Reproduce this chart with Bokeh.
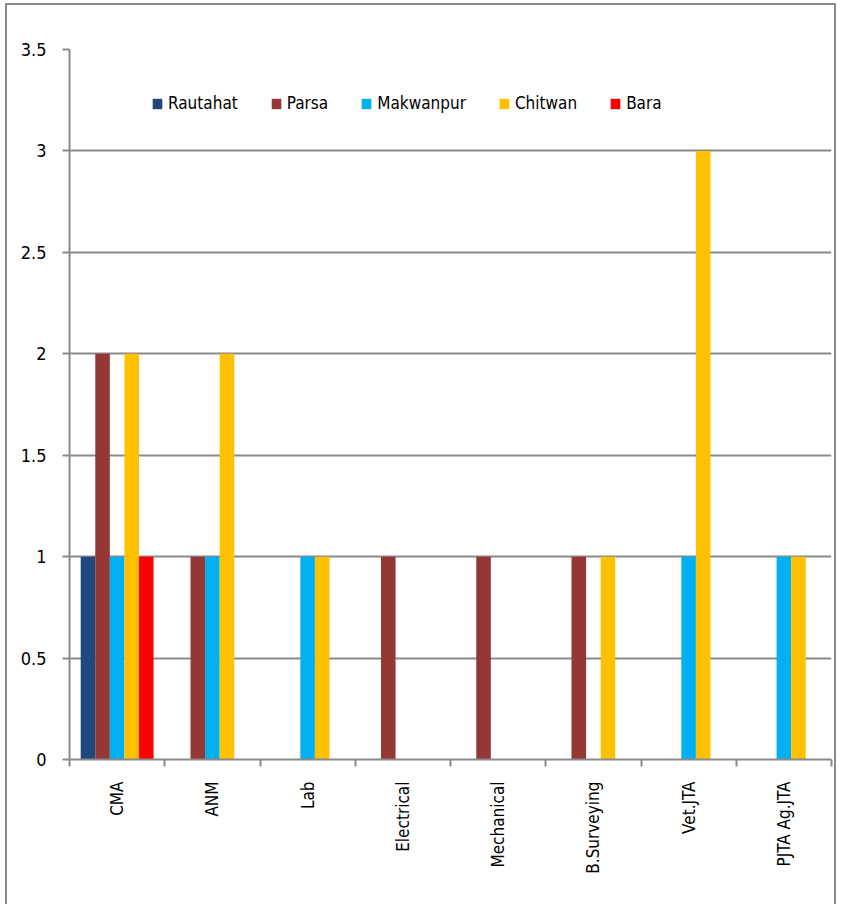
import math
from bokeh.plotting import figure
from bokeh.models import Range1d, FixedTicker, NumeralTickFormatter, Legend, LegendItem
from bokeh.embed import file_html
from bokeh.resources import INLINE

# Trainees by course and district
categories = ["CMA", "ANM", "Lab", "Electrical", "Mechanical",
              "B.Surveying", "Vet.JTA", "PJTA Ag.JTA"]
rautahat = [1, 0, 0, 0, 0, 0, 0, 0]
parsa = [2, 1, 0, 1, 1, 1, 0, 0]
makwanpur = [1, 1, 1, 0, 0, 0, 1, 1]
chitwan = [2, 2, 1, 0, 0, 1, 3, 1]
bara = [1, 0, 0, 0, 0, 0, 0, 0]

series = [
    ("Rautahat", rautahat, "#1F497D"),
    ("Parsa", parsa, "#953735"),
    ("Makwanpur", makwanpur, "#00B0F0"),
    ("Chitwan", chitwan, "#FFC000"),
    ("Bara", bara, "#FF0000"),
]
y_ticks = [0, 0.5, 1, 1.5, 2, 2.5, 3, 3.5]

FONT = "DejaVu Sans Condensed, Roboto"
GREY = "#8a8a8a"
n = len(categories)
centers = [i + 0.5 for i in range(n)]
bar_w = 0.153

p = figure(width=831, height=901, output_backend="svg", toolbar_location=None,
           x_range=Range1d(0, n), y_range=Range1d(0, 3.5),
           min_border_left=62, min_border_top=44, min_border_right=7,
           min_border_bottom=147, outline_line_color=None,
           background_fill_color="white", border_fill_color="white")
p.styles = {"margin-left": "5px", "margin-top": "3px",
            "border-left": "2px solid #8a8a8a", "border-top": "2px solid #8a8a8a",
            "border-right": "2px solid #8a8a8a"}

items = []
for j, (name, vals, color) in enumerate(series):
    off = (j - 2) * bar_w
    xs = [c + off for c in centers]
    r = p.vbar(x=xs, top=vals, bottom=0, width=bar_w, fill_color=color,
               line_color=None)
    items.append(LegendItem(label=name, renderers=[r]))

# grid
p.xgrid.visible = False
p.ygrid.ticker = FixedTicker(ticks=y_ticks)
p.ygrid.grid_line_color = GREY
p.ygrid.grid_line_width = 2

# y axis
p.yaxis.ticker = FixedTicker(ticks=y_ticks)
p.yaxis.formatter = NumeralTickFormatter(format="0.[0]")
p.yaxis.axis_line_color = GREY
p.yaxis.axis_line_width = 2
p.yaxis.major_tick_line_color = GREY
p.yaxis.major_tick_line_width = 2
p.yaxis.major_tick_out = 7
p.yaxis.major_tick_in = 0
p.yaxis.minor_tick_line_color = None
p.yaxis.major_label_standoff = 16
p.yaxis.major_label_text_font = FONT
p.yaxis.major_label_text_font_size = "18px"
p.yaxis.major_label_text_color = "black"

# x axis: labels at category centres, ticks at category boundaries
p.xaxis.ticker = FixedTicker(ticks=centers, minor_ticks=list(range(n + 1)))
p.xaxis.major_label_overrides = {c: lab for c, lab in zip(centers, categories)}
p.xaxis.major_label_orientation = math.pi / 2
p.xaxis.axis_line_color = GREY
p.xaxis.axis_line_width = 2
p.xaxis.major_tick_line_color = None
p.xaxis.major_tick_out = 0
p.xaxis.major_tick_in = 0
p.xaxis.minor_tick_line_color = GREY
p.xaxis.minor_tick_line_width = 2
p.xaxis.minor_tick_out = 7
p.xaxis.minor_tick_in = 0
p.xaxis.major_label_standoff = 15
p.xaxis.major_label_text_font = FONT
p.xaxis.major_label_text_font_size = "17px"
p.xaxis.major_label_text_color = "black"

legend = Legend(items=items, orientation="horizontal", location=(82, 646),
                padding=0, margin=0, spacing=32, label_standoff=5,
                glyph_width=12, glyph_height=13, label_height=20,
                border_line_color=None, background_fill_alpha=0,
                label_text_font=FONT, label_text_font_size="17px",
                label_text_color="black")
p.add_layout(legend)

open("out.html", "w").write(file_html(p, INLINE))
